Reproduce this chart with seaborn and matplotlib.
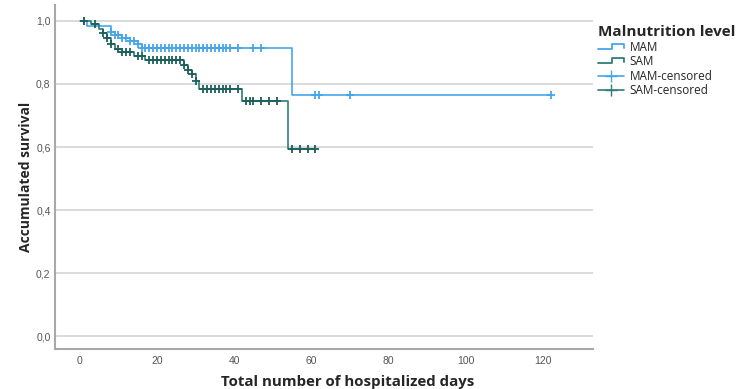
import numpy as np
import pandas as pd
import matplotlib
matplotlib.use("Agg")
import matplotlib.pyplot as plt
from matplotlib.legend_handler import HandlerBase
from matplotlib.lines import Line2D
import seaborn as sns

# Kaplan-Meier steps
mam_times = [0, 2, 8, 9, 11, 13, 15, 16, 55]
mam_surv = [1.0, 0.985, 0.965, 0.955, 0.945, 0.935, 0.925, 0.915, 0.765]
mam_end = 122

sam_times = [1, 3, 5, 6, 7, 8, 9, 11, 14, 17, 27, 28, 29, 30, 31, 42, 54]
sam_surv = [1.0, 0.99, 0.975, 0.96, 0.945, 0.925, 0.91, 0.9, 0.89, 0.875,
            0.86, 0.845, 0.83, 0.81, 0.785, 0.745, 0.595]
sam_end = 61

mam_cens = [1, 8, 9, 10, 11, 12, 13, 14, 15, 16, 17, 18, 19, 20, 21, 22, 23,
            24, 25, 26, 27, 28, 29, 30, 31, 32, 33, 34, 35, 36, 37, 38, 39,
            41, 45, 47, 61, 62, 70, 122]
sam_cens = [1, 4, 6, 7, 8, 10, 11, 12, 13, 15, 16, 18, 19, 20, 21, 22, 23,
            24, 25, 26, 27, 28, 29, 30, 32, 33, 34, 35, 36, 37, 38, 39, 41,
            43, 44, 45, 47, 49, 51, 55, 57, 59, 61]

MAM_COLOR = "#46a6ea"
SAM_COLOR = "#2f7d78"
SAM_MARK = "#1d5f5a"


def surv_at(times, surv, t):
    idx = np.searchsorted(times, t, side="right") - 1
    return np.asarray(surv)[np.clip(idx, 0, None)]


def step_frame(times, surv, end):
    return pd.DataFrame({"t": list(times) + [end], "s": list(surv) + [surv[-1]]})


class StepHandler(HandlerBase):
    def create_artists(self, legend, orig, xd, yd, w, h, fontsize, trans):
        xs = [xd, xd + 0.55 * w, xd + 0.55 * w, xd + w, xd + w]
        ys = [yd + 0.25 * h, yd + 0.25 * h, yd + 0.85 * h, yd + 0.85 * h, yd + 0.45 * h]
        ln = Line2D(xs, ys, color=orig.get_color(), lw=1.3, transform=trans)
        return [ln]


sns.set_style("white")
plt.rcParams["font.family"] = ["Open Sans", "DejaVu Sans"]

fig = plt.figure(figsize=(7.49, 3.89), dpi=100)
ax = fig.add_axes([0.073, 0.103, 0.719, 0.884])

for y in np.arange(0, 1.01, 0.2):
    ax.axhline(y, color="#d4d4d4", lw=1.2, zorder=0)

mam_df = step_frame(mam_times, mam_surv, mam_end)
sam_df = step_frame(sam_times, sam_surv, sam_end)
sns.lineplot(data=mam_df, x="t", y="s", drawstyle="steps-post", color=MAM_COLOR,
             lw=1.2, ax=ax, estimator=None, sort=False)
sns.lineplot(data=sam_df, x="t", y="s", drawstyle="steps-post", color=SAM_COLOR,
             lw=1.2, ax=ax, estimator=None, sort=False)

mc = pd.DataFrame({"t": mam_cens, "s": surv_at(mam_times, mam_surv, mam_cens)})
sc = pd.DataFrame({"t": sam_cens, "s": surv_at(sam_times, sam_surv, sam_cens)})
sns.scatterplot(data=mc, x="t", y="s", marker="+", s=40, color=MAM_COLOR,
                linewidth=1.3, ax=ax, zorder=3)
sns.scatterplot(data=sc, x="t", y="s", marker="+", s=40, color=SAM_MARK,
                linewidth=1.3, ax=ax, zorder=3)

ax.set_xlim(-6.5, 133)
ax.set_ylim(-0.04, 1.05)
ax.set_xticks(range(0, 121, 20))
ax.set_yticks(np.arange(0, 1.01, 0.2))
ax.set_yticklabels([f"{v:.1f}".replace(".", ",") for v in np.arange(0, 1.01, 0.2)])
ax.tick_params(length=0, labelsize=7.5, labelcolor="#555555", pad=5)
ax.tick_params(axis="y", pad=3)
for lab in ax.get_xticklabels() + ax.get_yticklabels():
    lab.set_family(["Liberation Sans", "DejaVu Sans"])

for side in ["top", "right"]:
    ax.spines[side].set_visible(False)
for side in ["left", "bottom"]:
    ax.spines[side].set_color("#a8a8a8")
    ax.spines[side].set_linewidth(1.5)

ax.set_xlabel("Total number of hospitalized days", fontsize=10.8, fontweight="bold")
ax.xaxis.set_label_coords(0.545, -0.075)
ax.set_ylabel("Accumulated survival", fontsize=10, fontweight="bold", labelpad=2)

handles = [Line2D([], [], color=MAM_COLOR), Line2D([], [], color=SAM_COLOR),
           Line2D([], [], color=MAM_COLOR, marker="+", markersize=9, lw=1.2),
           Line2D([], [], color=SAM_COLOR, marker="+", markersize=9, lw=1.2)]
labels = ["MAM", "SAM", "MAM-censored", "SAM-censored"]
leg = fig.legend(handles, labels, title="Malnutrition level", loc="upper left",
                 bbox_to_anchor=(0.798, 0.937), frameon=False, fontsize=8.5,
                 title_fontproperties={"weight": "bold", "size": 11},
                 handler_map={handles[0]: StepHandler(), handles[1]: StepHandler()},
                 handlelength=2.2, handletextpad=0.5, labelspacing=0.1,
                 borderpad=0, borderaxespad=0, alignment="left")
leg._legend_box.sep = 2

fig.savefig("out.png", dpi=100)
